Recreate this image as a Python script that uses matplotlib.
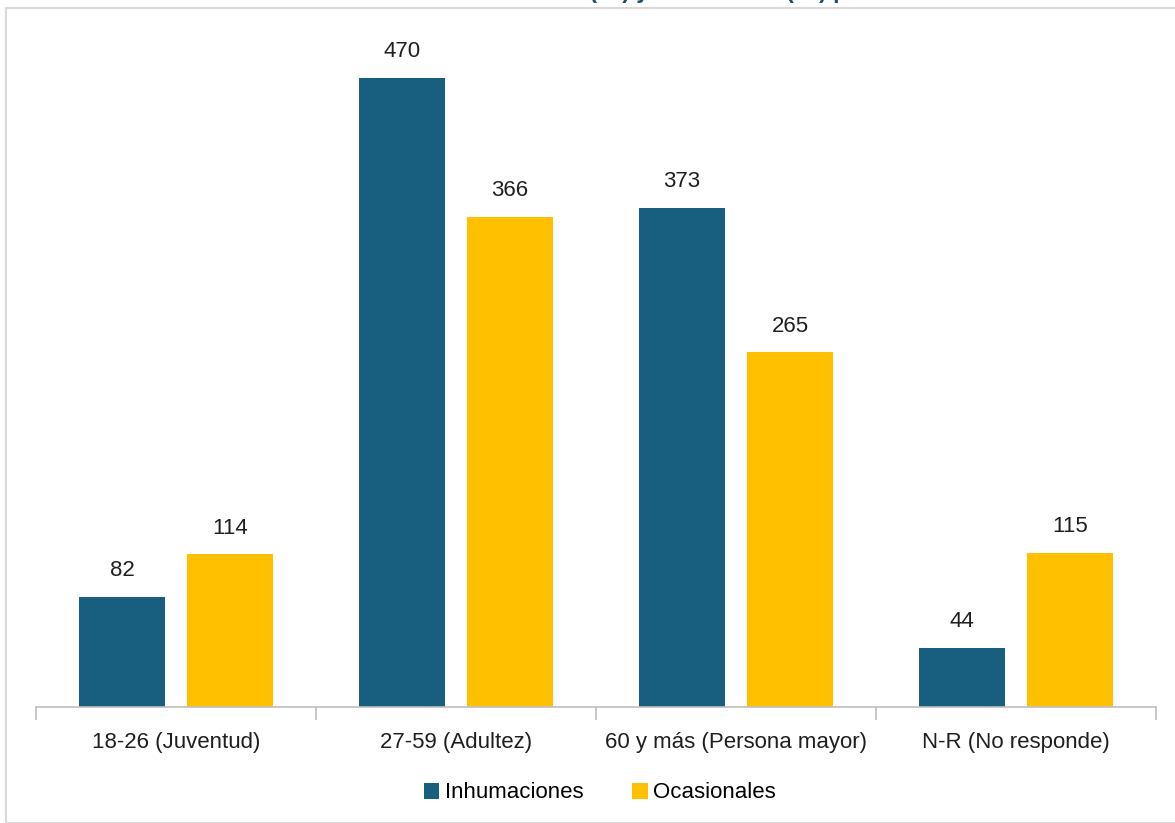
import numpy as np
import matplotlib
matplotlib.use("Agg")
import matplotlib.pyplot as plt
from matplotlib.patches import Rectangle

plt.rcParams['font.family'] = ['Liberation Sans', 'DejaVu Sans']

categories = ['18-26 (Juventud)', '27-59 (Adultez)', '60 y más (Persona mayor)', 'N-R (No responde)']
inhumaciones = [82, 470, 373, 44]
ocasionales = [114, 366, 265, 115]
series_names = ['Inhumaciones', 'Ocasionales']
title = 'Distribución de inhumados(as) y ocasionales(as) por ciclo vital'

blue = '#175E7F'
yellow = '#FFC000'
txt = '#1F1F1F'

fig = plt.figure(figsize=(11.75, 8.23), dpi=100)
W, H = 1175, 823

# light frame around the chart area
fig.patches.append(Rectangle((6 / W, 0), 1.2, (H - 8) / H, transform=fig.transFigure,
                             fill=False, edgecolor='#D9D9D9', linewidth=1.5))

ax = fig.add_axes([36 / W, (H - 707) / H, (1156 - 36) / W, (707 - 38) / H])
x = np.arange(len(categories))
w = 0.307
off = 0.193
b1 = ax.bar(x - off, inhumaciones, w, color=blue, label=series_names[0])
b2 = ax.bar(x + off, ocasionales, w, color=yellow, label=series_names[1])

for bars, vals in ((b1, inhumaciones), (b2, ocasionales)):
    for r, v in zip(bars, vals):
        ax.annotate(str(v), (r.get_x() + r.get_width() / 2, v), xytext=(0, 19),
                    textcoords='offset points', ha='center', va='center',
                    fontsize=16, color=txt)

ax.set_xlim(-0.5, len(categories) - 0.5)
ax.set_ylim(0, 500)
ax.set_yticks([])
ax.set_xticks(x)
ax.set_xticklabels(categories, fontsize=16, color=txt)
ax.set_xticks(np.arange(len(categories) + 1) - 0.5, minor=True)
ax.tick_params(axis='x', which='major', length=0, pad=18)
ax.tick_params(axis='x', which='minor', length=9, color='#BFBFBF', width=1.2)
for s in ('top', 'right', 'left'):
    ax.spines[s].set_visible(False)
ax.spines['bottom'].set_color('#BFBFBF')
ax.spines['bottom'].set_linewidth(1.2)

fig.legend(handles=[b1, b2], labels=series_names, loc='center', bbox_to_anchor=(600 / W, (H - 793) / H),
           ncol=2, frameon=False, fontsize=16, handlelength=0.7, handleheight=0.7,
           handletextpad=0.25, columnspacing=2.2)

# title sits above the frame; only its lower edge falls inside the canvas
fig.text(638 / W, (H + 2) / H, title, ha='center', va='baseline', fontsize=16.5,
         fontweight='bold', color='#1B4F6B')

fig.savefig('out.png', dpi=100)
